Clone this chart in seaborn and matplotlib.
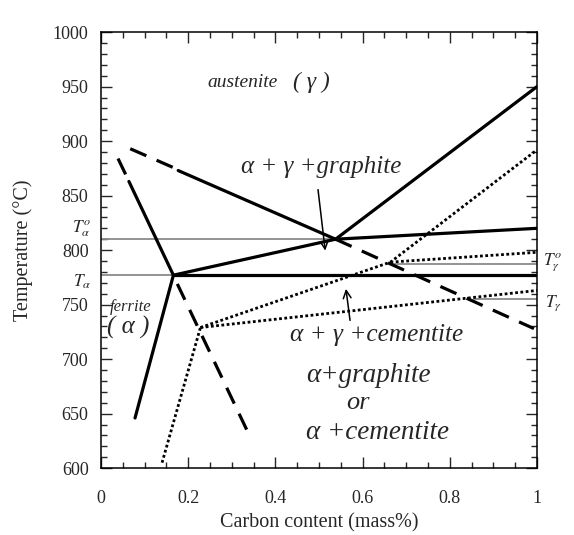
import matplotlib
matplotlib.use("Agg")
import matplotlib.pyplot as plt
import seaborn as sns
from matplotlib.ticker import MultipleLocator

# phase boundaries: carbon content (mass%) and temperature (degC)
ferrite_lo_c = [0.078, 0.166]
ferrite_lo_t = [646, 777]
ferrite_hi_dash_c = [0.039, 0.057]
ferrite_hi_dash_t = [884, 869]
ferrite_hi_c = [0.064, 0.166]
ferrite_hi_t = [863, 777]
a3_dash_c = [0.067, 0.170]
a3_dash_t = [893, 875]
a3_c = [0.177, 0.538]
a3_t = [873, 810]
a3_ext_c = [0.538, 0.993]
a3_ext_t = [810, 728]
acm_c = [0.538, 1.0]
acm_t = [810, 950]
a1_c = [0.166, 0.538, 1.0]
a1_t = [777, 810, 820]
eut_c = [0.166, 1.0]
eut_t = [777, 777]
cem_dash_c = [0.175, 0.338]
cem_dash_t = [769, 632]

# metastable (cementite) boundaries, dotted
dot_steep_c = [0.140, 0.228]
dot_steep_t = [605, 729]
dot_upper_c = [0.228, 0.664, 1.0]
dot_upper_t = [729, 789, 892]
dot_mid_c = [0.664, 1.0]
dot_mid_t = [789, 798]
dot_lower_c = [0.228, 1.0]
dot_lower_t = [729, 763]

# reference temperatures (thin grey lines)
t_alpha0_c = [0.0, 0.538]
t_alpha0_t = [810, 810]
t_alpha_c = [0.0, 0.166]
t_alpha_t = [777, 777]
t_gamma0_c = [0.664, 1.0]
t_gamma0_t = [787, 787]
t_gamma_c = [0.855, 1.0]
t_gamma_t = [755, 755]

sns.set_style("ticks")
plt.rcParams["font.family"] = ["Liberation Serif", "DejaVu Serif"]
plt.rcParams["mathtext.fontset"] = "stix"

fig = plt.figure(figsize=(5.74, 5.35), dpi=100)
ax = fig.add_axes([0.176, 0.125, 0.7595, 0.815])

solid = dict(color="black", lw=2.3, sort=False, estimator=None, ax=ax)
dashed = dict(color="black", lw=2.3, sort=False, estimator=None, ax=ax,
              linestyle=(0, (5.5, 3.5)))
dotted = dict(color="black", lw=2.0, sort=False, estimator=None, ax=ax,
              linestyle=(0, (1, 0.9)))
thin = dict(color="#8a8a8a", lw=1.3, sort=False, estimator=None, ax=ax)

for c, t in [(t_alpha0_c, t_alpha0_t), (t_alpha_c, t_alpha_t),
             (t_gamma0_c, t_gamma0_t), (t_gamma_c, t_gamma_t)]:
    sns.lineplot(x=c, y=t, **thin)

for c, t in [(ferrite_lo_c, ferrite_lo_t), (ferrite_hi_c, ferrite_hi_t),
             (a3_c, a3_t), (acm_c, acm_t), (a1_c, a1_t), (eut_c, eut_t)]:
    sns.lineplot(x=c, y=t, **solid)

for c, t in [(ferrite_hi_dash_c, ferrite_hi_dash_t), (a3_dash_c, a3_dash_t),
             (a3_ext_c, a3_ext_t), (cem_dash_c, cem_dash_t)]:
    sns.lineplot(x=c, y=t, **dashed)

for c, t in [(dot_steep_c, dot_steep_t), (dot_upper_c, dot_upper_t),
             (dot_mid_c, dot_mid_t), (dot_lower_c, dot_lower_t)]:
    sns.lineplot(x=c, y=t, **dotted)

# arrows
arrow = dict(arrowstyle="->", color="black", lw=1.1, mutation_scale=14)
ax.annotate("", xy=(0.515, 797), xytext=(0.497, 858), arrowprops=arrow)
ax.annotate("", xy=(0.561, 767), xytext=(0.572, 733), arrowprops=arrow)

# region labels
ax.text(0.244, 954, "austenite", fontsize=14, style="italic", va="center")
ax.text(0.483, 954, "( γ )", fontsize=17, style="italic", va="center", ha="center")
ax.text(0.32, 876, "α + γ +graphite", fontsize=18, style="italic", va="center")
ax.text(0.434, 722, "α + γ +cementite", fontsize=18.2, style="italic", va="center")
ax.text(0.47, 685, "α+graphite", fontsize=19.5, style="italic", va="center")
ax.text(0.59, 660, "or", fontsize=19, style="italic", va="center", ha="center")
ax.text(0.47, 633, "α +cementite", fontsize=19.5, style="italic", va="center")
ax.text(0.02, 748, "ferrite", fontsize=12, style="italic", va="center")
ax.text(0.014, 729, "( α )", fontsize=18, style="italic", va="center")

# T labels outside the axes
ax.text(-0.044, 820, r"$T_\alpha^o$", fontsize=12.5, ha="center", va="center")
ax.text(-0.044, 771, r"$T_\alpha$", fontsize=12.5, ha="center", va="center")
ax.text(1.037, 788, r"$T_\gamma^o$", fontsize=12.5, ha="center", va="center")
ax.text(1.037, 751, r"$T_\gamma$", fontsize=12.5, ha="center", va="center")

ax.set_xlim(0, 1)
ax.set_ylim(600, 1000)
ax.xaxis.set_major_locator(MultipleLocator(0.2))
ax.xaxis.set_minor_locator(MultipleLocator(0.05))
ax.yaxis.set_major_locator(MultipleLocator(50))
ax.yaxis.set_minor_locator(MultipleLocator(10))
ax.set_xticks([0, 0.2, 0.4, 0.6, 0.8, 1.0], ["0", "0.2", "0.4", "0.6", "0.8", "1"])
ax.tick_params(which="both", direction="in", top=True, right=True, width=1.0)
ax.tick_params(which="major", length=8)
ax.tick_params(which="minor", length=4)
ax.tick_params(axis="x", pad=16, labelsize=13)
ax.tick_params(axis="y", pad=9, labelsize=13)
for s in ax.spines.values():
    s.set_linewidth(1.1)
    s.set_color("black")

ax.set_xlabel("Carbon content (mass%)", fontsize=14.5, labelpad=4)
ax.set_ylabel("Temperature (°C)", fontsize=14.5, labelpad=14)

fig.savefig("out.png", dpi=100, facecolor="white")
